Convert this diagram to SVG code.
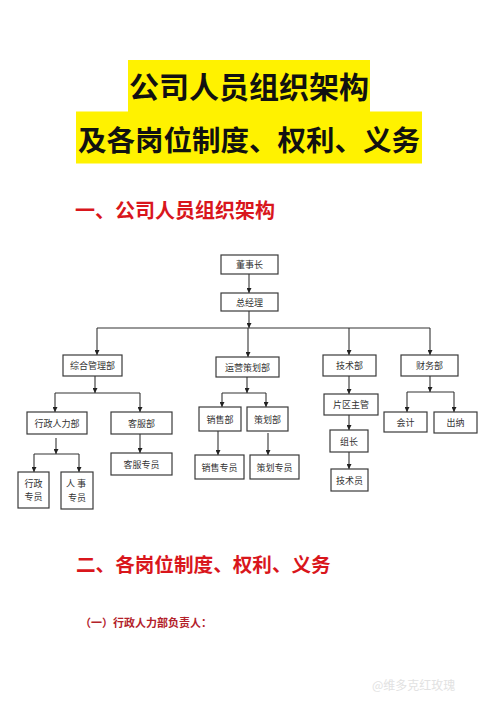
<svg xmlns="http://www.w3.org/2000/svg" width="500" height="705" viewBox="0 0 500 705">
<defs>
<style>
.bg{fill:#ffffff}
.hl{fill:#fff200}
.title{font-family:"Noto Sans CJK SC","Noto Sans",sans-serif;font-weight:bold;font-size:30px;fill:#111;text-anchor:middle}
.sec{font-family:"Noto Sans CJK SC","Noto Sans",sans-serif;font-weight:bold;font-size:20px;fill:#d9161c}
.sub{font-family:"Noto Sans CJK SC","Noto Sans",sans-serif;font-weight:bold;font-size:11px;fill:#b3212a}
.box{fill:#ffffff;stroke:#3a3a3a;stroke-width:1.2}
.t{font-family:"Noto Sans CJK SC","Noto Sans",sans-serif;font-size:9px;fill:#333;text-anchor:middle;dominant-baseline:central}
.ln{stroke:#333;stroke-width:1.1;fill:none}
.wm{font-family:"Noto Sans CJK SC","Noto Sans",sans-serif;font-size:12px;fill:#e2e2e2}
</style>
<marker id="ah" viewBox="0 0 10 10" refX="10" refY="5" markerWidth="5" markerHeight="5" markerUnits="userSpaceOnUse" orient="auto">
<path d="M0,0 L10,5 L0,10 z" fill="#222"/>
</marker>
</defs>
<rect class="bg" x="0" y="0" width="500" height="705"/>

<g id="title">
<rect class="hl" x="128" y="60" width="242" height="52"/>
<rect class="hl" x="76" y="111.5" width="346" height="52"/>
<text class="title" x="249" y="98">公司人员组织架构</text>
<text class="title" x="249" y="151" style="font-size:28.5px">及各岗位制度、权利、义务</text>
</g>

<g id="section1">
<text class="sec" x="75" y="218">一、公司人员组织架构</text>
</g>

<g id="connectors">
<line class="ln" x1="249" y1="274" x2="249" y2="293" marker-end="url(#ah)"/>
<line class="ln" x1="249" y1="311" x2="249" y2="328" marker-end="url(#ah)"/>
<line class="ln" x1="97" y1="328" x2="430" y2="328"/>
<line class="ln" x1="97" y1="328" x2="97" y2="355" marker-end="url(#ah)"/>
<line class="ln" x1="248" y1="328" x2="248" y2="357" marker-end="url(#ah)"/>
<line class="ln" x1="349" y1="328" x2="349" y2="355" marker-end="url(#ah)"/>
<line class="ln" x1="430" y1="328" x2="430" y2="355" marker-end="url(#ah)"/>

<line class="ln" x1="95" y1="376" x2="95" y2="393" marker-end="url(#ah)"/>
<line class="ln" x1="55" y1="393" x2="140" y2="393"/>
<line class="ln" x1="55" y1="393" x2="55" y2="412" marker-end="url(#ah)"/>
<line class="ln" x1="140" y1="393" x2="140" y2="412" marker-end="url(#ah)"/>
<line class="ln" x1="140" y1="434" x2="140" y2="453" marker-end="url(#ah)"/>
<line class="ln" x1="56" y1="438" x2="56" y2="454" marker-end="url(#ah)"/>
<line class="ln" x1="34" y1="454" x2="79" y2="454"/>
<line class="ln" x1="34" y1="454" x2="34" y2="472" marker-end="url(#ah)"/>
<line class="ln" x1="79" y1="454" x2="79" y2="472" marker-end="url(#ah)"/>

<line class="ln" x1="247" y1="377" x2="247" y2="393" marker-end="url(#ah)"/>
<line class="ln" x1="222" y1="393" x2="266" y2="393"/>
<line class="ln" x1="222" y1="393" x2="222" y2="407" marker-end="url(#ah)"/>
<line class="ln" x1="266" y1="393" x2="266" y2="407" marker-end="url(#ah)"/>
<line class="ln" x1="218" y1="431" x2="218" y2="455" marker-end="url(#ah)"/>
<line class="ln" x1="268" y1="433" x2="268" y2="455" marker-end="url(#ah)"/>

<line class="ln" x1="349" y1="376" x2="349" y2="394" marker-end="url(#ah)"/>
<line class="ln" x1="349" y1="415" x2="349" y2="430" marker-end="url(#ah)"/>
<line class="ln" x1="349" y1="452" x2="349" y2="469" marker-end="url(#ah)"/>

<line class="ln" x1="430" y1="376" x2="430" y2="392" marker-end="url(#ah)"/>
<line class="ln" x1="407" y1="392" x2="454" y2="392"/>
<line class="ln" x1="407" y1="392" x2="407" y2="412" marker-end="url(#ah)"/>
<line class="ln" x1="454" y1="392" x2="454" y2="412" marker-end="url(#ah)"/>
</g>

<g id="n-dongshizhang"><rect class="box" x="221" y="255" width="57" height="19"/><text class="t" x="249.5" y="264.5">董事长</text></g>
<g id="n-zongjingli"><rect class="box" x="221" y="293" width="57" height="18"/><text class="t" x="249.5" y="302">总经理</text></g>
<g id="n-zonghe"><rect class="box" x="63" y="355" width="59" height="21"/><text class="t" x="92.5" y="365.5">综合管理部</text></g>
<g id="n-yunying"><rect class="box" x="216" y="357" width="63" height="20"/><text class="t" x="247.5" y="367">运营策划部</text></g>
<g id="n-jishu"><rect class="box" x="323" y="355" width="53" height="21"/><text class="t" x="349.5" y="365.5">技术部</text></g>
<g id="n-caiwu"><rect class="box" x="401" y="355" width="57" height="21"/><text class="t" x="429.5" y="365.5">财务部</text></g>

<g id="n-xingzheng"><rect class="box" x="27" y="412" width="60" height="22"/><text class="t" x="57" y="423">行政人力部</text></g>
<g id="n-kefu"><rect class="box" x="111" y="412" width="61" height="22"/><text class="t" x="141.5" y="423">客服部</text></g>
<g id="n-kefuzhuanyuan"><rect class="box" x="111" y="453" width="61" height="22"/><text class="t" x="141.5" y="464">客服专员</text></g>
<g id="n-xingzhengzhuanyuan"><rect class="box" x="18" y="472" width="31" height="36"/><text class="t" x="33.5" y="483">行政</text><text class="t" x="33.5" y="496.5">专员</text></g>
<g id="n-renshizhuanyuan"><rect class="box" x="61" y="472" width="32" height="37"/><text class="t" x="77" y="483" letter-spacing="2">人事</text><text class="t" x="77" y="497">专员</text></g>

<g id="n-xiaoshou"><rect class="box" x="199" y="407" width="42" height="24"/><text class="t" x="220" y="419">销售部</text></g>
<g id="n-cehua"><rect class="box" x="247" y="407" width="41" height="24"/><text class="t" x="267.5" y="419">策划部</text></g>
<g id="n-xiaoshouzhuanyuan"><rect class="box" x="195" y="455" width="49" height="24"/><text class="t" x="219.5" y="467">销售专员</text></g>
<g id="n-cehuazhuanyuan"><rect class="box" x="250" y="455" width="49" height="24"/><text class="t" x="274.5" y="467">策划专员</text></g>

<g id="n-pianqu"><rect class="box" x="324" y="394" width="54" height="21"/><text class="t" x="351" y="404.5">片区主管</text></g>
<g id="n-zuzhang"><rect class="box" x="330" y="430" width="38" height="22"/><text class="t" x="349" y="441">组长</text></g>
<g id="n-jishuyuan"><rect class="box" x="331" y="469" width="37" height="22"/><text class="t" x="349.5" y="480">技术员</text></g>

<g id="n-kuaiji"><rect class="box" x="384" y="412" width="43" height="20"/><text class="t" x="405.5" y="422">会计</text></g>
<g id="n-chuna"><rect class="box" x="434" y="412" width="43" height="21"/><text class="t" x="455.5" y="422.5">出纳</text></g>

<g id="section2">
<text class="sec" x="76" y="572" style="font-size:19.6px">二、各岗位制度、权利、义务</text>
<text class="sub" x="80" y="627">（一）行政人力部负责人：</text>
</g>

<g id="watermark">
<text class="wm" x="372" y="690">@维多克红玫瑰</text>
</g>
</svg>
